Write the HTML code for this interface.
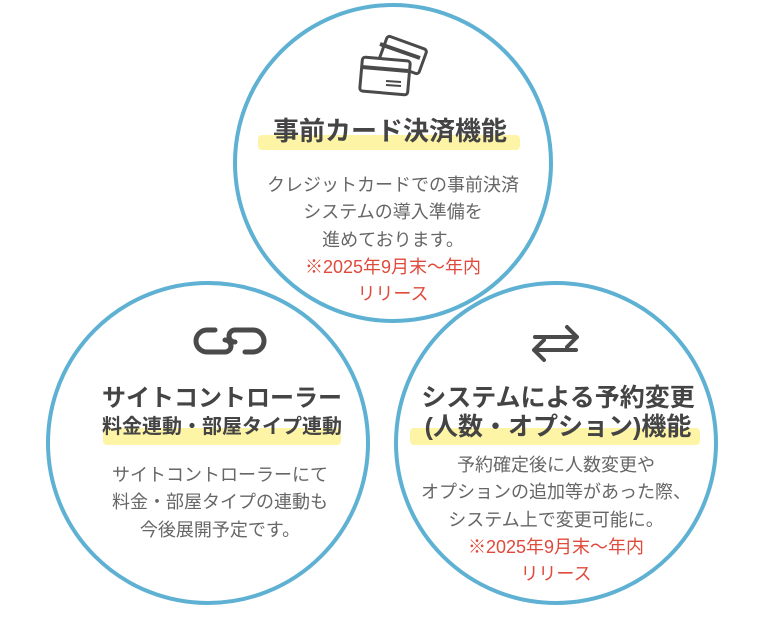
<!DOCTYPE html>
<html><head><meta charset="utf-8"><style>
body{margin:0;width:780px;height:627px;background:#fff;overflow:hidden;position:relative;font-family:"Liberation Sans","Noto Sans CJK JP",sans-serif}
.t{position:absolute;text-align:center;white-space:nowrap;transform:translateX(-50%)}
.h{font-weight:bold;color:#444}
.b{color:#666;font-size:18px;line-height:27.3px}
.r{color:#e04a3c}
.band{position:absolute;background:#fdf4a6;border-radius:4px}
</style></head><body>
<svg width="780" height="627" style="position:absolute;left:0;top:0">
<g fill="none" stroke="#5eb1d3" stroke-width="4">
<circle cx="393" cy="163" r="158"/>
<circle cx="208" cy="443" r="160"/>
<circle cx="556" cy="443" r="160"/>
</g>
<g fill="none" stroke="#4a4a4a" stroke-width="3" stroke-linejoin="round">
<rect x="382" y="42" width="42" height="26" rx="3" transform="rotate(20 403 55)" fill="#fff"/>
<line x1="380" y1="44" x2="420" y2="58" stroke-width="4" transform="rotate(0)"/>
<rect x="361" y="59" width="48" height="34" rx="3" transform="rotate(5 385 76)" fill="#fff"/>
<line x1="362" y1="67" x2="408" y2="71" stroke-width="4"/>
<line x1="386" y1="81" x2="401" y2="82" stroke-width="2"/>
<line x1="386" y1="85" x2="401" y2="86" stroke-width="2"/>
<path d="M215 330 h-8 a11 11 0 0 0 0 22 h18 a6 6 0 0 0 0 -12" stroke-width="5" stroke-linecap="round"/>
<path d="M245 352 h8 a11 11 0 0 0 0 -22 h-18 a6 6 0 0 0 0 12" stroke-width="5" stroke-linecap="round"/>
<g stroke-width="4" stroke-linecap="round">
<path d="M535 337 h42 M567 327 l10 10 l-10 10"/>
<path d="M576 350 h-42 M544 340 l-10 10 l10 10"/>
</g>
</g>
</svg>
<div class="band" style="left:258px;top:135px;width:262px;height:15px"></div>
<div class="band" style="left:103px;top:428px;width:238px;height:17px"></div>
<div class="band" style="left:410px;top:428px;width:290px;height:17px"></div>
<div class="t h" style="left:390px;top:116px;font-size:26px;line-height:30px">事前カード決済機能</div>
<div class="t b" style="left:393px;top:172px">クレジットカードでの事前決済<br>システムの導入準備を<br>進めております。<br><span class="r">※2025年9月末～年内<br>リリース</span></div>
<div class="t h" style="left:222px;top:384px;font-size:24px;line-height:30px">サイトコントローラー</div>
<div class="t h" style="left:222px;top:414px;font-size:20px;line-height:26px">料金連動・部屋タイプ連動</div>
<div class="t b" style="left:220px;top:462px">サイトコントローラーにて<br>料金・部屋タイプの連動も<br>今後展開予定です。</div>
<div class="t h" style="left:558px;top:384px;font-size:25px;line-height:29px">システムによる予約変更<br>(人数・オプション)機能</div>
<div class="t b" style="left:556px;top:452px">予約確定後に人数変更や<br>オプションの追加等があった際、<br>システム上で変更可能に。<br><span class="r">※2025年9月末～年内<br>リリース</span></div>
</body></html>
